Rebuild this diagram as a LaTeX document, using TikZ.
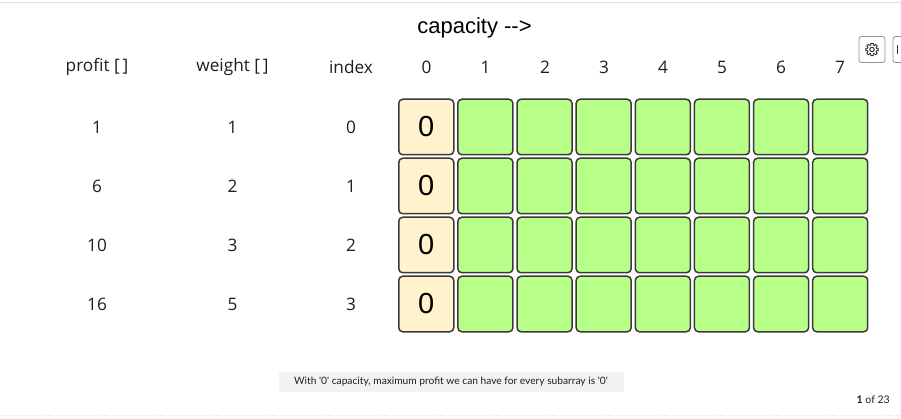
\documentclass[tikz,border=0pt]{standalone}
\usepackage{fontspec}
\usetikzlibrary{calc}
\setmainfont{Liberation Sans}
\newfontfamily\capfont{Lato}
\newfontfamily\labfont{Open Sans}
\definecolor{cellgreen}{HTML}{B8FF8A}
\definecolor{cellcream}{HTML}{FFF2CC}
\definecolor{cellline}{HTML}{3A3A3A}
\definecolor{txt}{HTML}{1E1E1E}
\tikzset{
 cellbase/.style={draw=cellline,line width=1.5pt,rounded corners=4pt,minimum width=55pt,minimum height=55.5pt,inner sep=0pt,anchor=north west},
 greencell/.style={cellbase,fill=cellgreen},
 creamcell/.style={cellbase,fill=cellcream,font=\fontsize{29}{29}\selectfont,text=black},
 head/.style={font=\labfont\fontsize{17.2}{18}\selectfont,text=txt,inner sep=0pt},
 val/.style={font=\labfont\fontsize{17.2}{18}\selectfont,text=txt,inner sep=0pt},
 btn/.style={draw=gray!85,line width=0.8pt,rounded corners=2.5pt,fill=white}
}
\begin{document}
\begin{tikzpicture}[x=1pt,y=-1pt]
\useasboundingbox (0,0) rectangle (901,419);
\fill[white] (0,0) rectangle (901,419);
\draw[black!12,line width=0.8pt] (0,2) -- (901,2);
\draw[black!12,line width=0.8pt,dotted] (0,415) -- (901,415);
\node[font=\fontsize{22}{24}\selectfont,text=black,inner sep=0pt] (title) at (474.5,28) {capacity -{}->};
\node[head] (hp) at (97,67) {profit [\,]};
\node[head] (hw) at (232.5,67) {weight [\,]};
\node[head] (hi) at (351,67) {index};
\foreach \c/\cx in {0/426.5,1/485.5,2/545,3/604,4/663,5/722,6/781,7/840}{
  \node[head] (col\c) at (\cx,67) {\c};
}
\foreach \r/\p/\w/\yy in {0/1/1/127,1/6/2/186,2/10/3/245,3/16/5/304}{
  \node[val] (p\r) at (97,\yy) {\p};
  \node[val] (w\r) at (232.5,\yy) {\w};
  \node[val] (i\r) at (351,\yy) {\r};
  \pgfmathsetmacro{\ty}{\yy-28.5}
  \node[creamcell] (c\r0) at (398,\ty) {0};
  \foreach \c in {1,...,7}{
    \pgfmathsetmacro{\tx}{398+59.14*\c}
    \node[greencell] (c\r\c) at (\tx,\ty) {};
  }
}
\node[fill=black!5,minimum width=345pt,minimum height=20pt,inner sep=0pt,font=\fontsize{10.2}{11}\selectfont,text=txt] (msg) at (451,382) {\capfont With '0' capacity, maximum profit we can have for every subarray is '0'};
\node[anchor=east,inner sep=0pt,font=\fontsize{10.5}{11}\selectfont,text=txt] (pg) at (890,400) {\capfont\textbf{1} of 23};
\draw[btn] (859,36.5) rectangle (885,62.5);
\draw[btn] (893,36.5) rectangle (910,62.5);
\draw[black!80,line width=1pt] (872,49.5) circle (2.2pt);
\foreach \a in {0,45,...,315}{
  \draw[black!80,line width=0.9pt,line join=round] ($(872,49.5)+(\a-14:4.6pt)$) -- ($(872,49.5)+(\a-12:6.3pt)$) -- ($(872,49.5)+(\a+12:6.3pt)$) -- ($(872,49.5)+(\a+14:4.6pt)$) -- ($(872,49.5)+(\a+31:4.6pt)$);
}
\draw[black!80,line width=1pt] (897,45) -- (897,54);
\end{tikzpicture}
\end{document}
